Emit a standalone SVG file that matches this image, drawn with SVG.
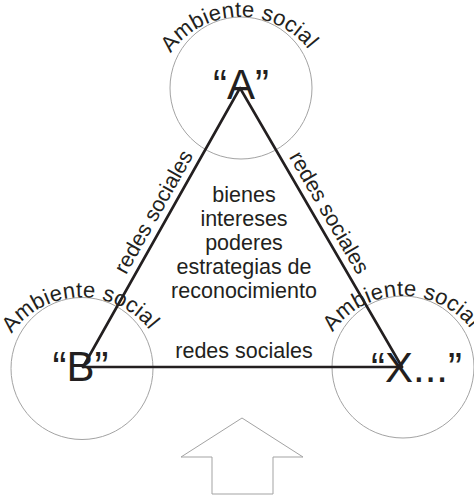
<svg xmlns="http://www.w3.org/2000/svg" width="474" height="497" viewBox="0 0 474 497">
<style>
.ring{fill:none;stroke:#a3a3a3;stroke-width:1}
.edge{stroke:#231f20;stroke-width:2.6;fill:none;stroke-linecap:round}
.t{font-family:"Liberation Sans",Arial,sans-serif;fill:#231f20}
.big{font-size:42px}
.lbl{font-size:21.5px}
.amb{font-size:22px;letter-spacing:0.3px}
.arrow{fill:#ffffff;stroke:#a3a3a3;stroke-width:1}
</style>
<defs>
<path id="arcA" d="M157.9,80.7 A86,86 0 0 1 324.1,80.7"/>
<path id="arcB" d="M-1.1,361.2 A86,86 0 0 1 165.1,361.2"/>
<path id="arcX" d="M319.9,359.7 A86,86 0 0 1 486.1,359.7"/>
</defs>
<rect width="474" height="497" fill="#ffffff"/>
<g id="nodeA">
<circle class="ring" cx="241" cy="88" r="71"/>
<text class="t amb"><textPath href="#arcA" startOffset="49%" text-anchor="middle">Ambiente social</textPath></text>
<text class="t big" x="241" y="99" text-anchor="middle">“A”</text>
</g>
<g id="nodeB">
<circle class="ring" cx="82" cy="368.5" r="71"/>
<text class="t amb"><textPath href="#arcB" startOffset="49%" text-anchor="middle">Ambiente social</textPath></text>
<text class="t big" x="80.5" y="381" text-anchor="middle">“B”</text>
</g>
<g id="nodeX">
<circle class="ring" cx="403" cy="367" r="71"/>
<text class="t amb"><textPath href="#arcX" startOffset="49%" text-anchor="middle">Ambiente social</textPath></text>
<text class="t big" x="371" y="381.5">“X...”</text>
</g>
<g id="connectors">
<line class="edge" x1="240" y1="88" x2="83" y2="367"/>
<line class="edge" x1="240" y1="88" x2="402" y2="367"/>
<line class="edge" x1="83" y1="367" x2="402" y2="367"/>
</g>
<g id="edge-labels">
<text class="t lbl" transform="translate(159.8,215.3) rotate(-60.6)" text-anchor="middle">redes sociales</text>
<text class="t lbl" transform="translate(323.1,216.2) rotate(59.9)" text-anchor="middle">redes sociales</text>
<text class="t lbl" x="244" y="358" text-anchor="middle">redes sociales</text>
</g>
<g id="center-text" class="t lbl" text-anchor="middle">
<text x="244" y="202">bienes</text>
<text x="244" y="226">intereses</text>
<text x="244" y="250">poderes</text>
<text x="244" y="274">estrategias de</text>
<text x="244" y="298">reconocimiento</text>
</g>
<g id="arrow">
<polygon class="arrow" points="242,418 303,457 273,457 273,494 212,494 212,457 181,457"/>
</g>
</svg>
